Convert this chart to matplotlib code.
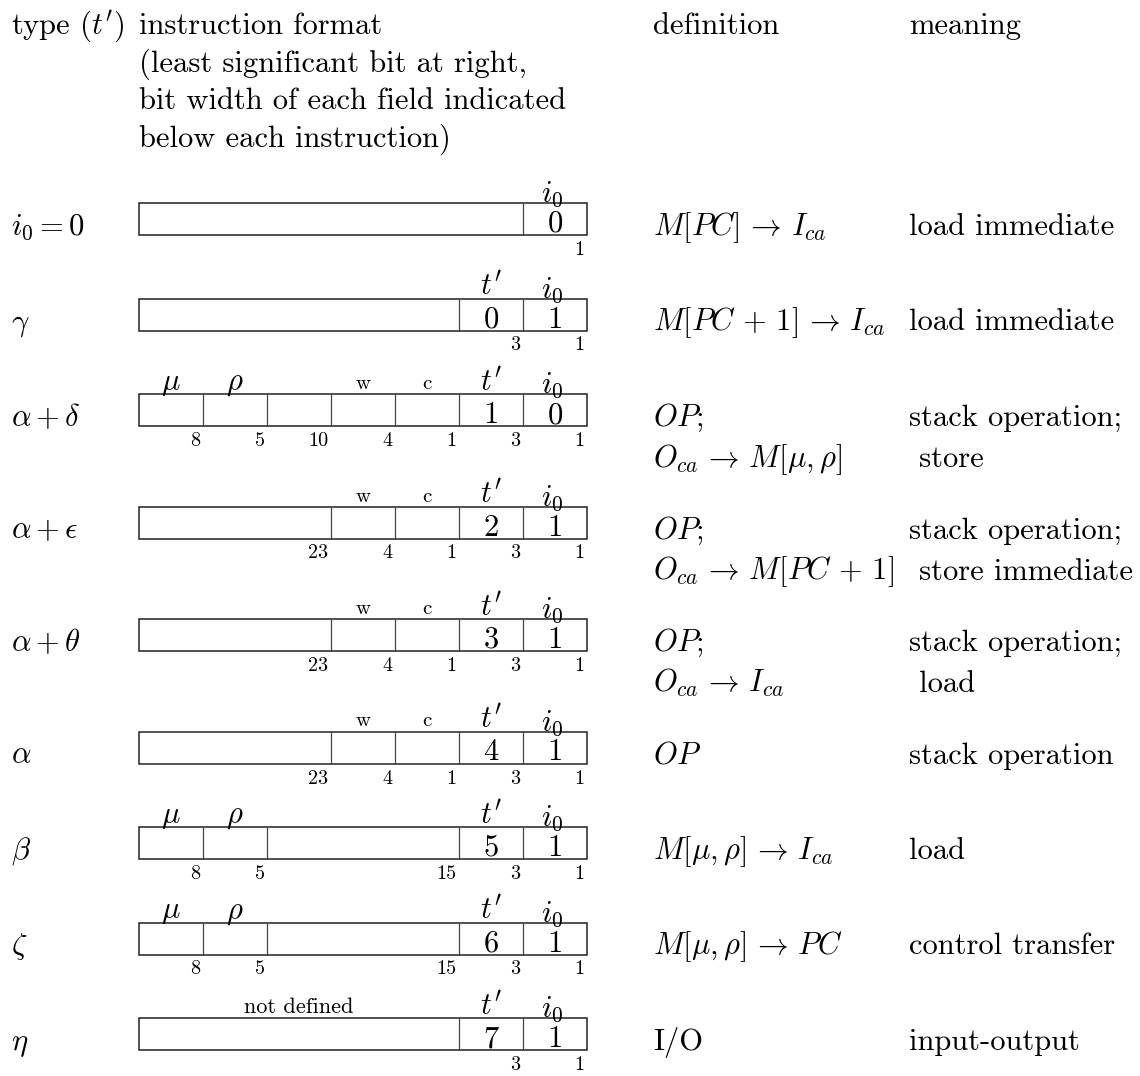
import matplotlib.pyplot as plt
from matplotlib.patches import Rectangle

plt.rcParams['mathtext.fontset'] = 'cm'
plt.rcParams['font.family'] = 'cmr10'
plt.rcParams['axes.unicode_minus'] = False

# --- table content -------------------------------------------------------
header_type = "type ($t'$)"
header_format = ["instruction format",
                 "(least significant bit at right,",
                 "bit width of each field indicated",
                 "below each instruction)"]
header_definition = "definition"
header_meaning = "meaning"

type_labels = ["$i_0 = 0$", r"$\gamma$", r"$\alpha + \delta$", r"$\alpha + \epsilon$",
               r"$\alpha + \theta$", r"$\alpha$", r"$\beta$", r"$\zeta$", r"$\eta$"]

# fields as (first cell, last cell + 1) on a 7-cell word
field_spans = [
    [(0, 6), (6, 7)],
    [(0, 5), (5, 6), (6, 7)],
    [(0, 1), (1, 2), (2, 3), (3, 4), (4, 5), (5, 6), (6, 7)],
    [(0, 3), (3, 4), (4, 5), (5, 6), (6, 7)],
    [(0, 3), (3, 4), (4, 5), (5, 6), (6, 7)],
    [(0, 3), (3, 4), (4, 5), (5, 6), (6, 7)],
    [(0, 1), (1, 2), (2, 5), (5, 6), (6, 7)],
    [(0, 1), (1, 2), (2, 5), (5, 6), (6, 7)],
    [(0, 5), (5, 6), (6, 7)],
]
field_names = [
    ["", "$i_0$"],
    ["", "$t'$", "$i_0$"],
    [r"$\mu$", r"$\rho$", "", "w", "c", "$t'$", "$i_0$"],
    ["", "w", "c", "$t'$", "$i_0$"],
    ["", "w", "c", "$t'$", "$i_0$"],
    ["", "w", "c", "$t'$", "$i_0$"],
    [r"$\mu$", r"$\rho$", "", "$t'$", "$i_0$"],
    [r"$\mu$", r"$\rho$", "", "$t'$", "$i_0$"],
    ["not defined", "$t'$", "$i_0$"],
]
field_values = [
    ["", "0"],
    ["", "0", "1"],
    ["", "", "", "", "", "1", "0"],
    ["", "", "", "2", "1"],
    ["", "", "", "3", "1"],
    ["", "", "", "4", "1"],
    ["", "", "", "5", "1"],
    ["", "", "", "6", "1"],
    ["", "7", "1"],
]
bit_widths = [
    ["", "1"],
    ["", "3", "1"],
    ["8", "5", "10", "4", "1", "3", "1"],
    ["23", "4", "1", "3", "1"],
    ["23", "4", "1", "3", "1"],
    ["23", "4", "1", "3", "1"],
    ["8", "5", "15", "3", "1"],
    ["8", "5", "15", "3", "1"],
    ["", "3", "1"],
]
definitions = [
    [r"$M[PC] \,\rightarrow\, I_{ca}$"],
    [r"$M[PC \,+\, 1] \,\rightarrow\, I_{ca}$"],
    ["$OP$;", r"$O_{ca} \,\rightarrow\, M[\mu, \rho]$"],
    ["$OP$;", r"$O_{ca} \,\rightarrow\, M[PC \,+\, 1]$"],
    ["$OP$;", r"$O_{ca} \,\rightarrow\, I_{ca}$"],
    ["$OP$"],
    [r"$M[\mu, \rho] \,\rightarrow\, I_{ca}$"],
    [r"$M[\mu, \rho] \,\rightarrow\, PC$"],
    ["I/O"],
]
meanings = [
    ["load immediate"],
    ["load immediate"],
    ["stack operation;", " store"],
    ["stack operation;", " store immediate"],
    ["stack operation;", " load"],
    ["stack operation"],
    ["load"],
    ["control transfer"],
    ["input-output"],
]

# --- layout (pixels) -----------------------------------------------------
W, H = 1140, 1076
x_type, x_box, cell_w, box_h = 11, 139, 64.0, 32
x_def, x_mean = 653, 909
big = 22

fig = plt.figure(figsize=(W / 100, H / 100), dpi=100)
ax = fig.add_axes([0, 0, 1, 1])
ax.set_xlim(0, W)
ax.set_ylim(H, 0)
ax.axis('off')

# header
ax.text(x_type, 34, header_type, fontsize=big, va='baseline')
for k, line in enumerate(header_format):
    ax.text(x_box, 34 + 37.5 * k, line, fontsize=big, va='baseline')
ax.text(x_def, 34, header_definition, fontsize=big, va='baseline')
ax.text(x_mean, 34, header_meaning, fontsize=big, va='baseline')

top = 203
for r in range(len(type_labels)):
    bottom = top + box_h
    ax.text(x_type, bottom, type_labels[r], fontsize=big, va='baseline')

    ax.add_patch(Rectangle((x_box, top), 7 * cell_w, box_h, fill=False,
                           edgecolor='#222222', linewidth=1.1))
    for (c0, c1), name, val, bits in zip(field_spans[r], field_names[r],
                                         field_values[r], bit_widths[r]):
        left, right = x_box + c0 * cell_w, x_box + c1 * cell_w
        mid = (left + right) / 2
        if c0 > 0:
            ax.vlines(left, top, bottom, color='#444444', linewidth=0.9)
        if val:
            ax.text(mid, top + 29, val, fontsize=big, ha='center', va='baseline')
        if bits:
            ax.text(right - 2.5, bottom + 20, bits, fontsize=14.5,
                    ha='right', va='baseline')
        if name == "$t'$":
            ax.text(mid, top - 4, name, fontsize=big, ha='center', va='baseline')
        elif name == "$i_0$":
            ax.text(mid - 3, top - 1, name, fontsize=big, ha='center', va='baseline')
        elif name.startswith('$'):
            ax.text(mid, top - 4, name, fontsize=big, ha='center', va='baseline')
        elif name:
            ax.text(mid, top - 5, name, fontsize=15 if len(name) == 1 else 16,
                    ha='center', va='baseline')

    for k, line in enumerate(definitions[r]):
        ax.text(x_def, bottom + 41 * k, line, fontsize=big, va='baseline')
    for k, line in enumerate(meanings[r]):
        ax.text(x_mean, bottom + 41 * k, line, fontsize=big, va='baseline')

    top += 95.5 + 17 * (len(definitions[r]) - 1)

fig.savefig('out.png', dpi=100, facecolor='white')
